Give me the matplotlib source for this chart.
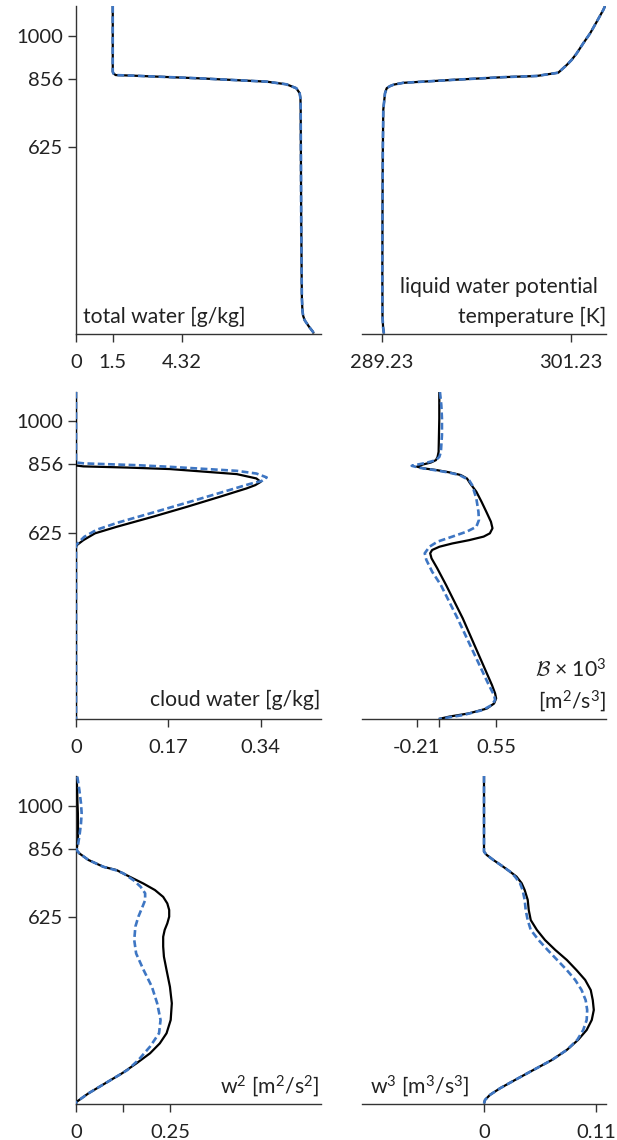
import matplotlib
matplotlib.use("Agg")
import matplotlib.pyplot as plt

plt.rcParams['font.family'] = ['Lato', 'DejaVu Sans']
plt.rcParams['mathtext.fontset'] = 'custom'
plt.rcParams['mathtext.rm'] = 'Lato'
plt.rcParams['mathtext.it'] = 'Lato:italic'
plt.rcParams['mathtext.cal'] = 'cmsy10'

# ---------------- data (height z in m) ----------------
yticks = [625, 856, 1000]

# total water [g/kg]
qt_z = [1100, 950, 880, 874, 868, 866, 857, 846, 837, 824, 807, 790, 762, 600, 400, 200, 120, 79, 60, 45, 23, 6, 0]
qt_les = [1.5, 1.5, 1.5, 1.52, 1.62, 2.34, 5.05, 7.77, 8.59, 8.99, 9.13, 9.16, 9.17, 9.18, 9.19, 9.21, 9.22, 9.24, 9.27, 9.33, 9.51, 9.67, 9.70]
qt_mod = [1.5, 1.5, 1.5, 1.52, 1.62, 2.34, 5.05, 7.77, 8.59, 8.99, 9.13, 9.16, 9.17, 9.18, 9.19, 9.21, 9.22, 9.24, 9.27, 9.33, 9.51, 9.67, 9.70]
qt_ticks = [0, 1.5, 4.32]
qt_ticklabels = ["0", "1.5", "4.32"]

# liquid water potential temperature [K]
th_z = [1100, 1087, 1047, 1008, 975, 941, 919, 902, 876, 865, 861, 852, 842, 836, 831, 824, 807, 751, 600, 400, 200, 60, 20, 0]
th_les = [303.41, 303.3, 302.88, 302.46, 302.03, 301.61, 301.29, 300.98, 300.44, 299.07, 296.95, 293.78, 290.6, 290.0, 289.76, 289.55, 289.44, 289.33, 289.3, 289.28, 289.27, 289.28, 289.32, 289.37]
th_mod = [303.41, 303.3, 302.88, 302.46, 302.03, 301.61, 301.29, 300.98, 300.44, 299.07, 296.95, 293.78, 290.6, 290.0, 289.76, 289.55, 289.44, 289.33, 289.3, 289.28, 289.27, 289.28, 289.32, 289.37]
th_ticks = [289.23, 301.23]
th_ticklabels = ["289.23", "301.23"]

# cloud water [g/kg]
ql_les_z = [1100, 860, 852, 849, 845, 840, 823, 808.5, 797, 786, 775, 747, 713, 680, 646, 624, 601, 585, 579, 0]
ql_les = [0, 0, 0, 0.0135, 0.095, 0.173, 0.296, 0.332, 0.34, 0.33, 0.314, 0.265, 0.204, 0.142, 0.075, 0.035, 0.0135, 0.002, 0, 0]
ql_mod_z = [1100, 864, 862, 859, 853, 847.5, 834, 825, 812, 800, 790, 760, 727, 694, 660, 636, 612, 592, 584, 0]
ql_mod = [0, 0, 0, 0.015, 0.112, 0.173, 0.296, 0.332, 0.351, 0.342, 0.320, 0.265, 0.204, 0.142, 0.077, 0.038, 0.015, 0.004, 0, 0]
ql_ticks = [0, 0.17, 0.34]
ql_ticklabels = ["0", "0.17", "0.34"]

# buoyancy flux x 10^3 [m2/s3]
b_les_z = [1099, 1010, 898, 881, 870, 862, 855, 848, 842, 837, 829, 820, 808.5, 792, 764, 730, 697, 663, 641, 624,
           613, 601, 590, 579, 568, 557, 540, 507, 450, 338, 226, 114, 86, 69, 52, 35, 19, 8, 0]
b_les = [0.0045, 0.0045, -0.002, -0.012, -0.028, -0.076, -0.156, -0.21, -0.14, -0.028, 0.10, 0.21, 0.27, 0.30, 0.36,
         0.41, 0.455, 0.50, 0.515, 0.49, 0.43, 0.29, 0.13, 0.006, -0.064, -0.083, -0.07, -0.016, 0.07, 0.23, 0.37,
         0.51, 0.54, 0.55, 0.53, 0.46, 0.29, 0.10, 0.0]
b_mod_z = [1099, 1055, 1010, 954, 898, 881, 870, 861, 851, 844, 837, 829, 820, 803, 786, 741, 697, 669, 646, 630,
           613, 596, 579, 557, 535, 495, 450, 338, 226, 114, 80, 64, 47, 30, 13, 0]
b_mod = [0.011, 0.024, 0.03, 0.03, 0.02, 0.005, -0.028, -0.12, -0.26, -0.18, -0.05, 0.086, 0.198, 0.29, 0.32, 0.36,
         0.38, 0.385, 0.36, 0.27, 0.13, -0.013, -0.09, -0.135, -0.12, -0.064, 0.02, 0.18, 0.33, 0.48, 0.53, 0.54,
         0.508, 0.42, 0.23, 0.0]
b_ticks = [-0.21, 0, 0.55]
b_ticklabels = ["-0.21", "", "0.55"]

# w2 [m2/s2]
w2_les_z = [1098, 1053, 1008, 975, 941, 896, 862.5, 851.5, 840, 818, 795, 784, 761, 739, 717, 694, 672, 650, 627.5,
            605, 583, 560, 527, 493, 448, 392, 336.6, 280.6, 236, 202, 168.6, 135, 101, 68, 34, 6, 0]
w2_les = [0.0018, 0.003, 0.004, 0.005, 0.0053, 0.0053, 0.003, 0.0, 0.009, 0.033, 0.073, 0.108, 0.144, 0.179, 0.210,
          0.232, 0.243, 0.248, 0.248, 0.243, 0.236, 0.232, 0.232, 0.234, 0.241, 0.25, 0.255, 0.252, 0.241, 0.223,
          0.197, 0.161, 0.122, 0.078, 0.033, 0.002, 0.0]
w2_mod_z = [1098, 1053, 1008, 975, 941, 896, 862.5, 851.5, 840, 818, 795, 784, 773, 750, 728, 706, 683, 661, 627.5,
            594, 549, 504, 448, 392, 336.6, 280.6, 236, 191, 146, 112.5, 101, 68, 34, 6, 0]
w2_mod = [0.0035, 0.0089, 0.0133, 0.015, 0.0133, 0.0089, 0.0044, 0.0018, 0.009, 0.033, 0.073, 0.105, 0.126, 0.153,
          0.172, 0.184, 0.184, 0.177, 0.166, 0.158, 0.155, 0.16, 0.18, 0.202, 0.216, 0.225, 0.221, 0.197, 0.166,
          0.137, 0.122, 0.078, 0.033, 0.002, 0.0]
w2_ticks = [0, 0.125, 0.25]
w2_ticklabels = ["0", "", "0.25"]

# w3 [m3/s3]
w3_les_z = [1100, 900, 846, 835, 818, 795, 779, 762, 740, 717, 684, 650, 616, 583, 549, 516, 482, 448, 415, 381, 347,
            314, 280.6, 247, 213.5, 180, 146, 112.5, 79, 51, 29, 12, 0]
w3_les = [0, 0, 0, 0.0026, 0.0092, 0.019, 0.0255, 0.032, 0.037, 0.040, 0.043, 0.044, 0.046, 0.052, 0.060, 0.070,
          0.0815, 0.091, 0.0995, 0.105, 0.107, 0.108, 0.106, 0.101, 0.0925, 0.0815, 0.0667, 0.0485, 0.0305, 0.0157,
          0.0059, 0.001, 0]
w3_mod_z = [1100, 900, 846, 835, 818, 795, 779, 762, 740, 717, 684, 650, 616, 583, 549, 516, 482, 448, 415, 381, 347,
            314, 280.6, 247, 213.5, 180, 146, 112.5, 79, 51, 29, 12, 0]
w3_mod = [0, 0, 0, 0.0026, 0.0092, 0.019, 0.0255, 0.0305, 0.0354, 0.038, 0.040, 0.041, 0.043, 0.046, 0.0537, 0.0625,
          0.072, 0.0815, 0.0897, 0.096, 0.100, 0.1015, 0.101, 0.0976, 0.0917, 0.0815, 0.0667, 0.0485, 0.0305, 0.0157,
          0.0059, 0.001, 0]
w3_ticks = [0, 0.11]
w3_ticklabels = ["0", "0.11"]

# ---------------- layout ----------------
W, H = 617, 1140
fig = plt.figure(figsize=(W / 100, H / 100), dpi=100)

BLACK = "#000000"
BLUE = "#3e76c3"
SPINE = "#333333"
TXT = "#222222"
LABEL_SIZE = 15.2

col_x = [(76, 321), (362, 606)]
row_y = [(6, 333.5), (391.7, 719), (776, 1103.5)]

def make_ax(r, c):
    x0, x1 = col_x[c]
    y0, y1 = row_y[r]
    ax = fig.add_axes([x0 / W, 1 - y1 / H, (x1 - x0) / W, (y1 - y0) / H])
    ax.set_ylim(0, 1100)
    for s in ["top", "right"]:
        ax.spines[s].set_visible(False)
    for s in ["left", "bottom"]:
        ax.spines[s].set_color(SPINE)
        ax.spines[s].set_linewidth(1.0)
    ax.tick_params(axis="x", length=5.5, width=1.0, color=SPINE, labelsize=14.5,
                   pad=9, labelcolor=TXT)
    ax.tick_params(axis="y", length=5.5, width=1.0, color=SPINE, labelsize=14.5,
                   pad=4, labelcolor=TXT)
    if c == 0:
        ax.set_yticks(yticks)
        ax.set_yticklabels([str(t) for t in yticks])
    else:
        ax.spines["left"].set_visible(False)
        ax.set_yticks([])
    return ax

def draw(ax, z1, v1, z2, v2):
    ax.plot(v1, z1, color=BLACK, lw=1.6, solid_capstyle="butt", solid_joinstyle="round", zorder=3)
    ax.plot(v2, z2, color=BLUE, lw=1.9, linestyle=(0, (2.6, 1.3)), zorder=4)

def label(x, y, s, ha):
    fig.text(x / W, 1 - y / H, s, ha=ha, va="baseline", fontsize=LABEL_SIZE, color=TXT)

# panel 1: total water
ax = make_ax(0, 0)
draw(ax, qt_z, qt_les, qt_z, qt_mod)
ax.set_xlim(0, 10)
ax.set_xticks(qt_ticks)
ax.set_xticklabels(qt_ticklabels)
label(83, 323, "total water [g/kg]", "left")

# panel 2: theta_l
ax = make_ax(0, 1)
draw(ax, th_z, th_les, th_z, th_mod)
ax.set_xlim(287.98, 303.47)
ax.set_xticks(th_ticks)
ax.set_xticklabels(th_ticklabels)
label(598, 293, "liquid water potential", "right")
label(606, 323, "temperature [K]", "right")

# panel 3: cloud water
ax = make_ax(1, 0)
draw(ax, ql_les_z, ql_les, ql_mod_z, ql_mod)
ax.set_xlim(0, 0.451)
ax.set_xticks(ql_ticks)
ax.set_xticklabels(ql_ticklabels)
label(320, 706, "cloud water [g/kg]", "right")

# panel 4: buoyancy flux
ax = make_ax(1, 1)
draw(ax, b_les_z, b_les, b_mod_z, b_mod)
ax.set_xlim(-0.737, 1.604)
ax.set_xticks(b_ticks)
ax.set_xticklabels(b_ticklabels)
label(606, 678, r"$\mathcal{B}$ × 10$^\mathrm{3}$", "right")
label(606, 708, r"[m$^\mathrm{2}$/s$^\mathrm{3}$]", "right")

# panel 5: w2
ax = make_ax(2, 0)
draw(ax, w2_les_z, w2_les, w2_mod_z, w2_mod)
ax.set_xlim(0, 0.652)
ax.set_xticks(w2_ticks)
ax.set_xticklabels(w2_ticklabels)
label(319, 1093, r"w$^\mathrm{2}$ [m$^\mathrm{2}$/s$^\mathrm{2}$]", "right")

# panel 6: w3
ax = make_ax(2, 1)
draw(ax, w3_les_z, w3_les, w3_mod_z, w3_mod)
ax.set_xlim(-0.12, 0.12)
ax.set_xticks(w3_ticks)
ax.set_xticklabels(w3_ticklabels)
label(370, 1093, r"w$^\mathrm{3}$ [m$^\mathrm{3}$/s$^\mathrm{3}$]", "left")

fig.savefig("out.png", dpi=100)
